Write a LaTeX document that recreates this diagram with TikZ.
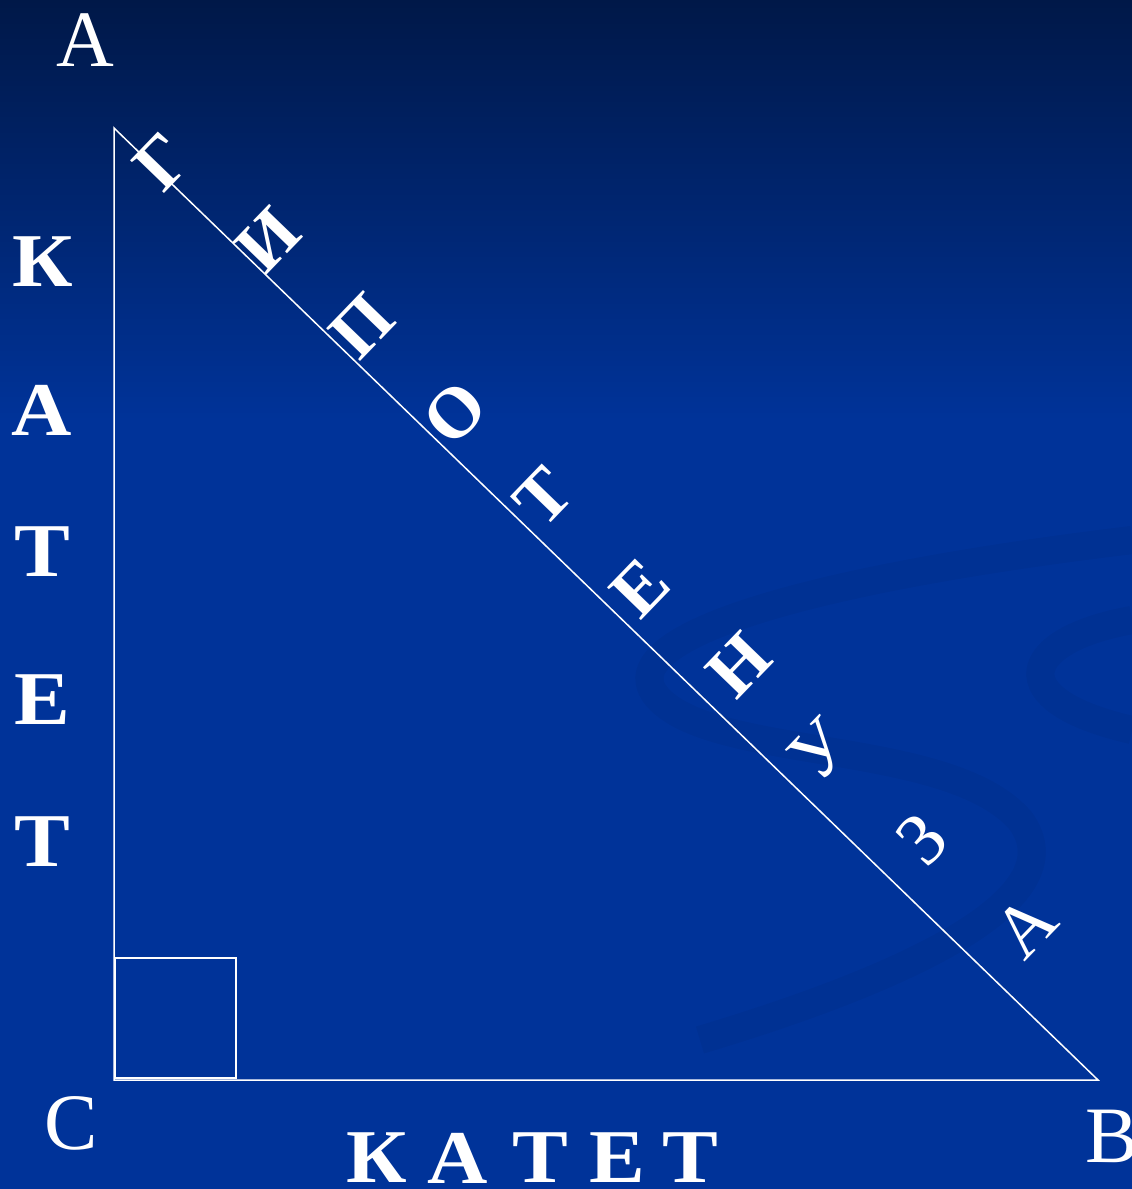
\documentclass[tikz,border=0pt]{standalone}
\usepackage{fontspec}
\setmainfont{Liberation Serif}
\begin{document}
\begin{tikzpicture}[x=1pt,y=-1pt,
  edge/.style={draw=white,line width=1.5pt},
  vlabel/.style={text=white,inner sep=0pt,font=\fontsize{80}{80}\selectfont},
  legletter/.style={text=white,inner sep=0pt,xscale=1.1,font=\fontsize{76}{76}\selectfont\bfseries},
  hypletter/.style={text=white,inner sep=0pt,rotate=46,font=\fontsize{72}{72}\selectfont\bfseries},
  hypthin/.style={text=white,inner sep=0pt,rotate=46,font=\fontsize{74}{74}\selectfont},
  swirl/.style={draw=black,opacity=0.04,line width=28pt}]
\definecolor{bgtop}{RGB}{0,24,72}
\definecolor{bgmain}{RGB}{0,51,153}
% background
\fill[bgmain] (0,0) rectangle (1132,1189);
\shade[top color=bgtop,bottom color=bgmain] (0,0) rectangle (1132,420);
\useasboundingbox (0,0) rectangle (1132,1189);
% faint swirls
\draw[swirl] (1132,540) .. controls (800,580) and (600,640) .. (660,700) .. controls (720,760) and (950,740) .. (1020,820) .. controls (1080,900) and (900,980) .. (700,1040);
\draw[swirl] (1132,620) .. controls (1020,640) and (1000,700) .. (1132,730);
% vertices
\coordinate (a) at (114,128);
\coordinate (c) at (114,1080);
\coordinate (b) at (1098,1080);
\draw[edge] (a) -- (c) -- (b) -- cycle;
% right-angle mark
\coordinate (r1) at (115,958);
\coordinate (r2) at (236,1078);
\draw[draw=white,line width=1.8pt] (r1) rectangle (r2);
% vertex labels
\node[vlabel] (la) at (85,40) {A};
\node[vlabel] (lc) at (71,1123) {C};
\node[vlabel] (lb) at (1112,1136) {B};
% left leg
\node[legletter] (k1) at (43,262) {К};
\node[legletter] (k2) at (42,410) {А};
\node[legletter] (k3) at (42,552) {Т};
\node[legletter] (k4) at (42,700) {Е};
\node[legletter] (k5) at (42,842) {Т};
% bottom leg
\node[legletter] (b1) at (377,1158) {К};
\node[legletter] (b2) at (458,1158) {А};
\node[legletter] (b3) at (540,1158) {Т};
\node[legletter] (b4) at (617,1158) {Е};
\node[legletter] (b5) at (690,1158) {Т};
% hypotenuse
\node[hypletter] (h1) at (162,162) {Г};
\node[hypletter] (h2) at (268,240) {И};
\node[hypletter] (h3) at (362,326) {П};
\node[hypletter] (h4) at (455,413) {О};
\node[hypletter] (h5) at (543,497) {Т};
\node[hypletter] (h6) at (640,588) {Е};
\node[hypletter] (h7) at (739,665) {Н};
\node[hypthin] (h8) at (820,750) {У};
\node[hypthin] (h9) at (922,839) {З};
\node[hypthin] (h10) at (1025,926) {А};
\end{tikzpicture}
\end{document}
